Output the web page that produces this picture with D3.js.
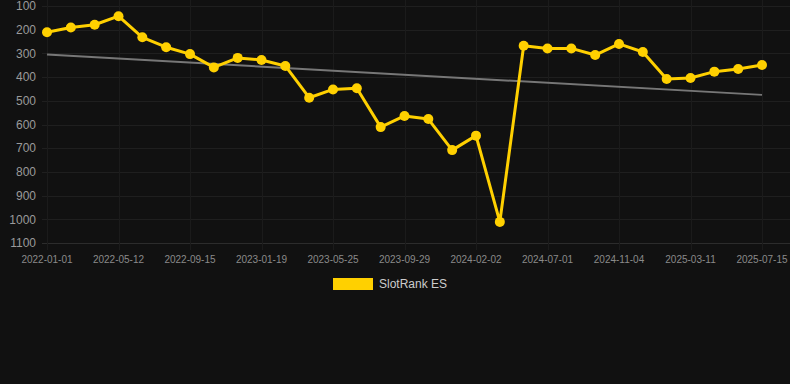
<!DOCTYPE html>
<html><head><meta charset="utf-8">
<script src="https://cdn.jsdelivr.net/npm/d3@7"></script>
<style>html,body{margin:0;padding:0;background:#111111;}svg{display:block;font-family:Arial,"Liberation Sans",sans-serif;}</style>
</head><body>
<svg id="c" width="790" height="384"></svg>
<script>
const dates = ["2022-01-01","2022-02-13","2022-03-29","2022-05-12","2022-06-23","2022-08-04","2022-09-15","2022-10-27","2022-12-08","2023-01-19","2023-03-02","2023-04-13","2023-05-25","2023-07-06","2023-08-17","2023-09-29","2023-11-10","2023-12-22","2024-02-02","2024-03-15","2024-05-20","2024-07-01","2024-08-12","2024-09-23","2024-11-04","2024-12-16","2025-01-28","2025-03-11","2025-04-22","2025-06-03","2025-07-15"];
const ranks = [211,191,179,143,232,274,303,359,319,328,353,487,452,447,611,564,577,708,647,1011,268,279,279,307,260,294,408,404,377,366,349];
const trend = [305,475];
const yTicks = [100,200,300,400,500,600,700,800,900,1000,1100];
const seriesName = "SlotRank ES";

const svg = d3.select("#c");
const x = d3.scalePoint().domain(dates).range([47,762]);
const y = d3.scaleLinear().domain([100,1100]).range([6,243]);

// horizontal grid
svg.append("g").selectAll("line").data(yTicks).join("line")
  .attr("x1",42).attr("x2",790).attr("y1",d=>Math.round(y(d))+0.5).attr("y2",d=>Math.round(y(d))+0.5)
  .attr("stroke",d=>d===1100?"#2c2c2c":"#1f1f1f").attr("stroke-width",1);
// vertical grid
const xLabels = dates.filter((d,i)=>i%3===0);
svg.append("g").selectAll("line").data(xLabels).join("line")
  .attr("x1",d=>Math.round(x(d))+0.5).attr("x2",d=>Math.round(x(d))+0.5).attr("y1",0).attr("y2",250)
  .attr("stroke","#1b1b1b").attr("stroke-width",1);

// y labels
svg.append("g").selectAll("text").data(yTicks).join("text")
  .attr("x",36).attr("y",d=>y(d)).attr("dy","0.35em").attr("text-anchor","end")
  .attr("fill","#9a9a9a").attr("font-size",12).text(d=>d);
// x labels
svg.append("g").selectAll("text").data(xLabels).join("text")
  .attr("x",d=>x(d)).attr("y",263).attr("text-anchor","middle")
  .attr("fill","#8a8a8a").attr("font-size",10).text(d=>d);

// trend line
svg.append("line").attr("x1",x(dates[0])).attr("x2",x(dates[dates.length-1]))
  .attr("y1",y(trend[0])).attr("y2",y(trend[1]))
  .attr("stroke","#777").attr("stroke-width",2);

// series line
const line = d3.line().x((d,i)=>x(dates[i])).y(d=>y(d));
svg.append("path").datum(ranks).attr("d",line).attr("fill","none")
  .attr("stroke","#FFD000").attr("stroke-width",3).attr("stroke-linejoin","round");
svg.append("g").selectAll("circle").data(ranks).join("circle")
  .attr("cx",(d,i)=>x(dates[i])).attr("cy",d=>y(d)).attr("r",5).attr("fill","#FFD000");

// legend
svg.append("rect").attr("x",333).attr("y",278).attr("width",40).attr("height",12).attr("fill","#FFD000");
svg.append("text").attr("x",379).attr("y",284).attr("dy","0.35em").attr("fill","#cccccc").attr("font-size",12).text(seriesName);
</script>
</body></html>
